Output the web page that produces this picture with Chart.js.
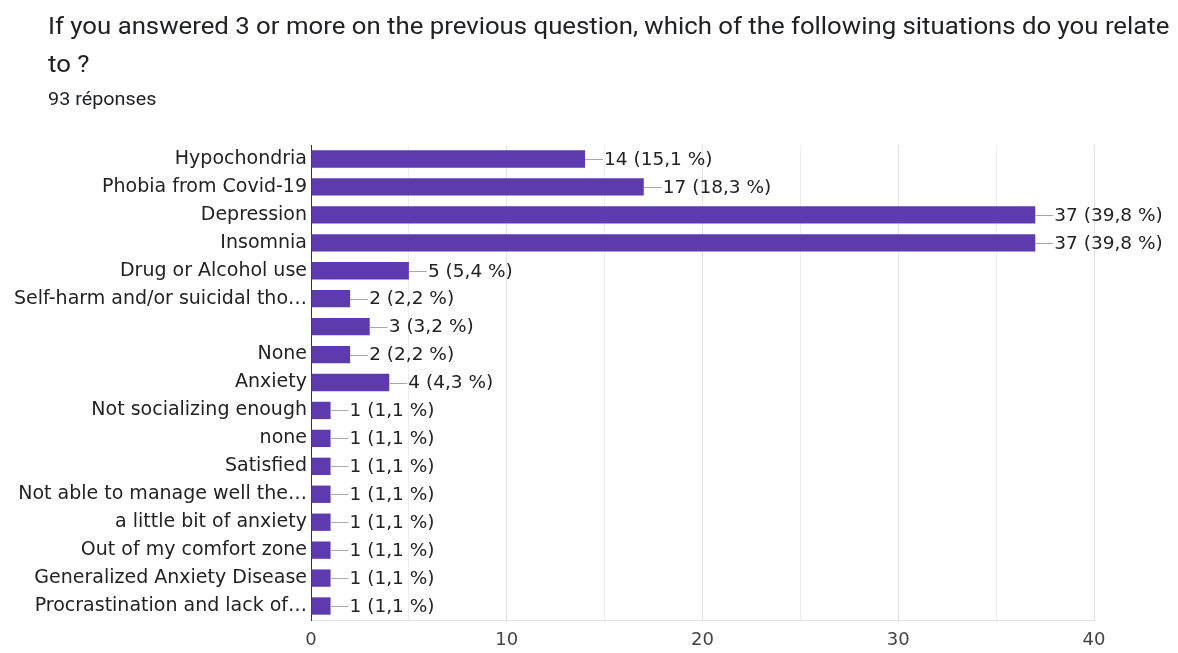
<!DOCTYPE html>
<html>
<head>
<meta charset="utf-8">
<script src="https://cdn.jsdelivr.net/npm/chart.js@4.4.1/dist/chart.umd.min.js"></script>
<style>
  html, body { margin: 0; padding: 0; background: #fff; width: 1178px; height: 653px; overflow: hidden; }
  #wrap { position: relative; width: 1178px; height: 653px; }
  #title { position: absolute; left: 48px; top: 8px; font-family: Roboto, sans-serif; font-size: 23px; line-height: 38px; color: #202124; white-space: nowrap; transform: scaleX(1.12); transform-origin: 0 0; }
  #sub { position: absolute; left: 48px; top: 88px; font-family: Roboto, sans-serif; font-size: 18px; line-height: 22px; color: #202124; white-space: nowrap; transform: scaleX(1.1); transform-origin: 0 0; }
  canvas { position: absolute; left: 0; top: 0; }
</style>
</head>
<body>
<div id="wrap">
  <canvas id="c" width="1178" height="653"></canvas>
  <div id="title">If you answered 3 or more on the previous question, which of the following situations do you relate<br>to ?</div>
  <div id="sub">93 réponses</div>
</div>
<script>
const categories = [
  'Hypochondria',
  'Phobia from Covid-19',
  'Depression',
  'Insomnia',
  'Drug or Alcohol use',
  'Self-harm and/or suicidal tho…',
  '',
  'None',
  'Anxiety',
  'Not socializing enough',
  'none',
  'Satisfied',
  'Not able to manage well the…',
  'a little bit of anxiety',
  'Out of my comfort zone',
  'Generalized Anxiety Disease',
  'Procrastination and lack of…'
];
const counts = [14, 17, 37, 37, 5, 2, 3, 2, 4, 1, 1, 1, 1, 1, 1, 1, 1];
const percents = ['15,1', '18,3', '39,8', '39,8', '5,4', '2,2', '3,2', '2,2', '4,3', '1,1', '1,1', '1,1', '1,1', '1,1', '1,1', '1,1', '1,1'];
const xTickLabels = [0, 10, 20, 30, 40];

const FONT = "'DejaVu Sans', sans-serif";

const valueLabels = {
  id: 'valueLabels',
  afterDatasetsDraw(chart) {
    const ctx = chart.ctx;
    const meta = chart.getDatasetMeta(0);
    ctx.save();
    ctx.font = '18.5px ' + FONT;
    ctx.textBaseline = 'middle';
    ctx.textAlign = 'left';
    meta.data.forEach((bar, i) => {
      const x = bar.x, y = bar.y;
      ctx.strokeStyle = '#a8a8a8';
      ctx.lineWidth = 1;
      ctx.beginPath();
      ctx.moveTo(x, Math.round(y) + 0.5);
      ctx.lineTo(x + 18, Math.round(y) + 0.5);
      ctx.stroke();
      ctx.fillStyle = '#222';
      ctx.fillText(counts[i] + ' (' + percents[i] + ' %)', x + 19, y + 1);
    });
    ctx.restore();
  }
};

new Chart(document.getElementById('c'), {
  type: 'bar',
  data: {
    labels: categories,
    datasets: [{
      data: counts,
      backgroundColor: '#5e3aaf',
      borderWidth: 0,
      categoryPercentage: 1,
      barPercentage: 0.62
    }]
  },
  options: {
    indexAxis: 'y',
    responsive: false,
    animation: false,
    devicePixelRatio: 1,
    layout: { padding: { left: 0, top: 145, right: 84, bottom: 0 } },
    plugins: { legend: { display: false }, tooltip: { enabled: false } },
    scales: {
      x: {
        min: 0,
        max: 40,
        afterFit(scale) { scale.height = 33; },
        afterBuildTicks(scale) {
          const t = [];
          for (let v = 0; v <= 40; v += 5) t.push({ value: v });
          scale.ticks = t;
        },
        ticks: {
          autoSkip: false,
          maxRotation: 0,
          padding: 10,
          color: '#444',
          font: { family: FONT, size: 18 },
          callback: (v) => (xTickLabels.includes(v) ? String(v) : '')
        },
        grid: {
          drawTicks: false,
          color: (ctx) => (ctx.tick && ctx.tick.value % 10 === 0 ? '#e3e3e3' : '#ededed')
        },
        border: { display: true, color: '#e3e3e3' }
      },
      y: {
        afterFit(scale) { scale.width = 311; },
        ticks: {
          autoSkip: false,
          padding: 4,
          color: '#222',
          font: { family: FONT, size: 19 }
        },
        grid: { display: false, drawTicks: false },
        border: { display: true, color: '#333', width: 1 }
      }
    }
  },
  plugins: [valueLabels]
});
</script>
</body>
</html>
